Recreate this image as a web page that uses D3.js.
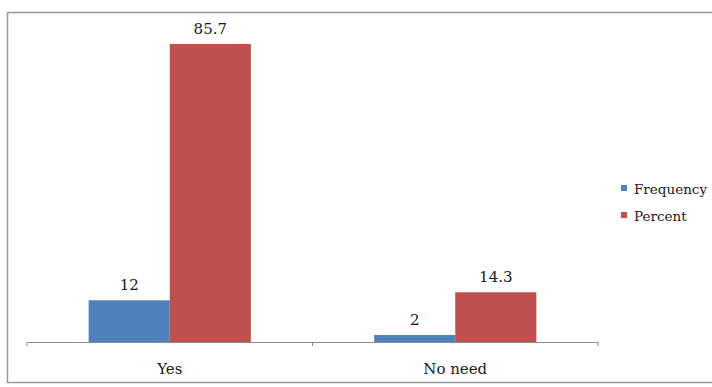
<!DOCTYPE html>
<html>
<head>
<meta charset="utf-8">
<script src="https://cdn.jsdelivr.net/npm/d3@7"></script>
<style>
  html, body { margin: 0; padding: 0; background: #fff; }
  svg { display: block; }
</style>
</head>
<body>
<svg id="chart" width="712" height="387"></svg>
<script>
// Responses and the two measured series
const categories = ["Yes", "No need"];
const seriesNames = ["Frequency", "Percent"];
const frequency = [12, 2];
const percent = [85.7, 14.3];
const seriesColors = ["#4F81BD", "#C0504D"];

const FONT = "'DejaVu Serif', serif";
const TEXT_COLOR = "#1a1a1a";

const svg = d3.select("#chart");

// Chart frame
svg.append("rect")
  .attr("x", 7.5).attr("y", 12.5)
  .attr("width", 720).attr("height", 370)
  .attr("fill", "none").attr("stroke", "#9a9a9a").attr("stroke-width", 1.5);

const plot = { left: 27, right: 598, top: 29, bottom: 342 };

const x0 = d3.scaleBand().domain(categories).range([plot.left, plot.right]);
const x1 = d3.scaleBand().domain(seriesNames).range([0, x0.bandwidth()]).paddingOuter(0.76);
const y = d3.scaleLinear().domain([0, 90]).range([plot.bottom, plot.top]);

const rows = categories.map((c, i) => ({
  category: c,
  values: [
    { series: seriesNames[0], value: frequency[i], color: seriesColors[0] },
    { series: seriesNames[1], value: percent[i], color: seriesColors[1] }
  ]
}));

const groups = svg.append("g").selectAll("g").data(rows).join("g")
  .attr("transform", d => `translate(${x0(d.category)},0)`);

groups.selectAll("rect").data(d => d.values).join("rect")
  .attr("x", d => x1(d.series))
  .attr("y", d => y(d.value))
  .attr("width", x1.bandwidth())
  .attr("height", d => y(0) - y(d.value))
  .attr("fill", d => d.color);

groups.selectAll("text.val").data(d => d.values).join("text")
  .attr("class", "val")
  .attr("x", d => x1(d.series) + x1.bandwidth() / 2)
  .attr("y", d => y(d.value) - 10)
  .attr("text-anchor", "middle")
  .style("font-family", FONT)
  .style("font-size", "15px")
  .style("fill", TEXT_COLOR)
  .text(d => d.value);

// Category axis
const axis = svg.append("g")
  .attr("transform", `translate(0,${plot.bottom})`)
  .call(d3.axisBottom(x0).tickSize(0).tickPadding(21));
axis.select(".domain").attr("stroke", "#8c8c8c").attr("stroke-width", 1.2);
axis.selectAll(".tick text")
  .style("font-family", FONT)
  .style("font-size", "15px")
  .style("fill", TEXT_COLOR);

// Boundary tick marks between categories
const bounds = categories.map(c => x0(c)).concat([x0.range()[1]]);
svg.append("g").selectAll("line").data(bounds).join("line")
  .attr("x1", d => d).attr("x2", d => d)
  .attr("y1", plot.bottom).attr("y2", plot.bottom + 4)
  .attr("stroke", "#8c8c8c");

// Legend
const legend = svg.append("g").attr("transform", "translate(621,189)");
const items = legend.selectAll("g").data(seriesNames).join("g")
  .attr("transform", (d, i) => `translate(0,${i * 27})`);
items.append("rect")
  .attr("x", 0).attr("y", -4).attr("width", 6).attr("height", 6)
  .attr("fill", (d, i) => seriesColors[i]);
items.append("text")
  .attr("x", 13).attr("y", 5)
  .style("font-family", FONT)
  .style("font-size", "13.5px")
  .style("fill", TEXT_COLOR)
  .text(d => d);
</script>
</body>
</html>
